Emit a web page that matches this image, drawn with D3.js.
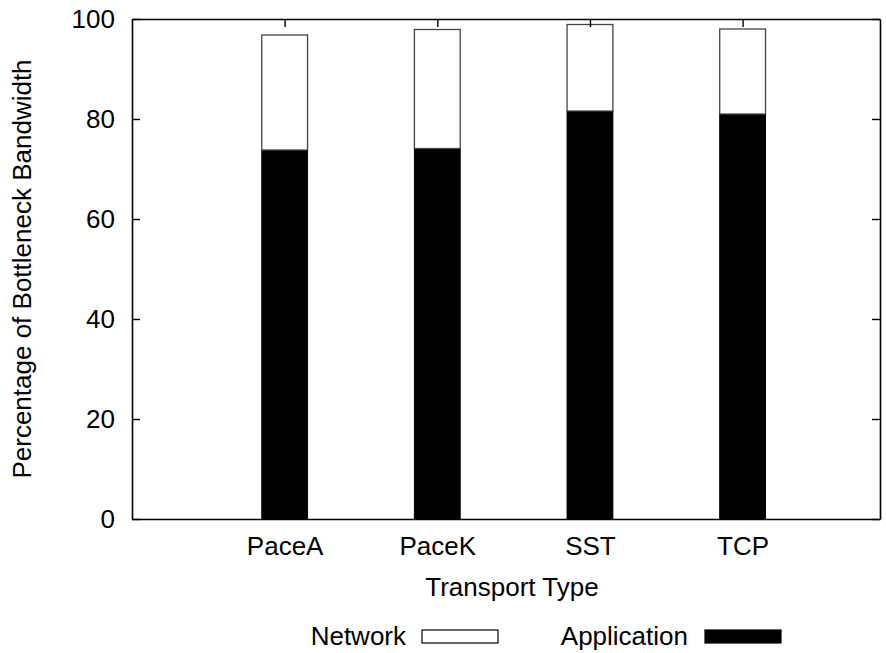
<!DOCTYPE html>
<html>
<head>
<meta charset="utf-8">
<script src="https://cdn.jsdelivr.net/npm/d3@7/dist/d3.min.js"></script>
<style>
  html, body { margin: 0; padding: 0; background: #fff; }
  svg { display: block; font-family: "Liberation Sans", Arial, Helvetica, sans-serif; }
</style>
</head>
<body>
<svg id="chart" width="886" height="653"></svg>
<script>
// ---- data ----
const categories = ["PaceA", "PaceK", "SST", "TCP"];
const application = [73.8, 74.1, 81.6, 81.0];
const network = [23.0, 23.8, 17.3, 17.0];
const yTicks = [0, 20, 40, 60, 80, 100];
const seriesNames = ["Network", "Application"];
const seriesColors = ["#ffffff", "#000000"];

// ---- layout ----
const plotL = 132, plotR = 880, plotT = 19, plotB = 519;
const fontSize = 26;

const svg = d3.select("#chart");

const x = d3.scaleLinear().domain([-1, 3.9]).range([plotL, plotR]);
const y = d3.scaleLinear().domain([0, 100]).range([plotB, plotT]);
const barW = x(0.3) - x(0);

// bars
const g = svg.append("g");
categories.forEach((c, i) => {
  const cx = x(i);
  g.append("rect")
    .attr("x", cx - barW / 2)
    .attr("y", y(application[i]))
    .attr("width", barW)
    .attr("height", y(0) - y(application[i]))
    .attr("fill", seriesColors[1])
    .attr("stroke", "#000")
    .attr("stroke-width", 1);
  const tot = application[i] + network[i];
  g.append("rect")
    .attr("x", cx - barW / 2)
    .attr("y", y(tot))
    .attr("width", barW)
    .attr("height", y(application[i]) - y(tot))
    .attr("fill", seriesColors[0])
    .attr("stroke", "#444")
    .attr("stroke-width", 1.3);
});

// axes with inward ticks
const tickLen = 8;
const yAxisL = d3.axisLeft(y).tickValues(yTicks).tickSize(-tickLen).tickPadding(17).tickSizeOuter(0);
const yAxisR = d3.axisRight(y).tickValues(yTicks).tickSize(-tickLen).tickFormat("").tickSizeOuter(0);
const xAxisB = d3.axisBottom(x).tickValues(d3.range(categories.length)).tickSize(-tickLen)
  .tickFormat(i => categories[i]).tickPadding(18).tickSizeOuter(0);
const xAxisT = d3.axisTop(x).tickValues(d3.range(categories.length)).tickSize(-tickLen)
  .tickFormat("").tickSizeOuter(0);

function styleAxis(sel) {
  sel.selectAll("path.domain").attr("stroke", "#000").attr("stroke-width", 1.6);
  sel.selectAll(".tick line").attr("stroke", "#000").attr("stroke-width", 1.4);
  sel.selectAll("text").attr("fill", "#000").style("font-size", fontSize + "px")
     .style("font-family", '"Liberation Sans", Arial, sans-serif');
}

svg.append("g").attr("transform", `translate(${plotL},0)`).call(yAxisL).call(styleAxis);
svg.append("g").attr("transform", `translate(${plotR},0)`).call(yAxisR).call(styleAxis);
svg.append("g").attr("transform", `translate(0,${plotB})`).call(xAxisB).call(styleAxis);
svg.append("g").attr("transform", `translate(0,${plotT})`).call(xAxisT).call(styleAxis);

// axis titles
svg.append("text")
  .attr("x", 512)
  .attr("y", 596)
  .attr("text-anchor", "middle")
  .style("font-size", fontSize + "px")
  .text("Transport Type");

svg.append("text")
  .attr("transform", `translate(31,${(plotT + plotB) / 2}) rotate(-90)`)
  .attr("text-anchor", "middle")
  .style("font-size", fontSize + "px")
  .text("Percentage of Bottleneck Bandwidth");

// legend
const legend = [
  { name: seriesNames[0], textRight: 406, boxX: 422, fill: seriesColors[0] },
  { name: seriesNames[1], textRight: 688, boxX: 705, fill: seriesColors[1] }
];
legend.forEach(d => {
  svg.append("text")
    .attr("x", d.textRight)
    .attr("y", 645)
    .attr("text-anchor", "end")
    .style("font-size", fontSize + "px")
    .text(d.name);
  svg.append("rect")
    .attr("x", d.boxX)
    .attr("y", 630)
    .attr("width", 76)
    .attr("height", 13)
    .attr("fill", d.fill)
    .attr("stroke", "#000")
    .attr("stroke-width", 1.2);
});
</script>
</body>
</html>
